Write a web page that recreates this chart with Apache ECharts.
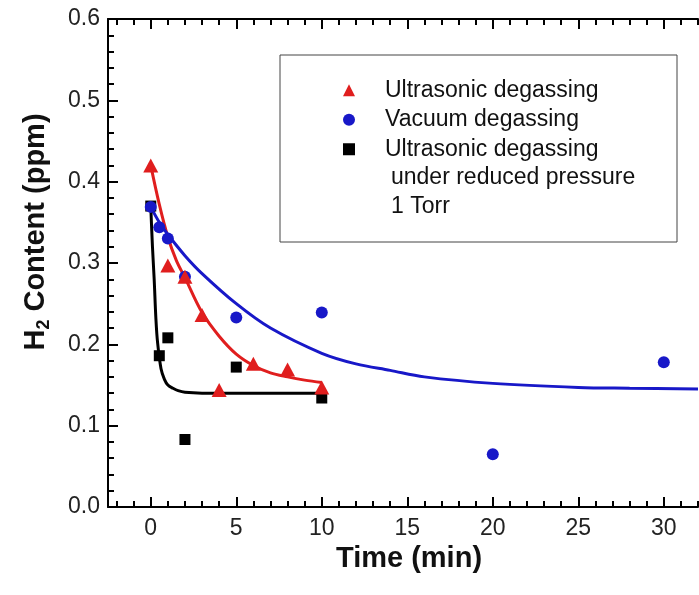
<!DOCTYPE html>
<html>
<head>
<meta charset="utf-8">
<script src="https://cdn.jsdelivr.net/npm/echarts@6/dist/echarts.min.js"></script>
<style>html,body{margin:0;padding:0;background:#fff;}#c{width:699px;height:595px;}</style>
</head>
<body>
<div id="c"></div>
<script>
// ---- data ----
var ultraX = [0, 1, 2, 3, 4, 6, 8, 10];
var ultraY = [0.420, 0.297, 0.283, 0.236, 0.144, 0.176, 0.169, 0.147];
var vacX = [0, 0.5, 1, 2, 5, 10, 20, 30];
var vacY = [0.369, 0.344, 0.330, 0.283, 0.233, 0.239, 0.065, 0.178];
var lowX = [0, 0.5, 1, 2, 5, 10];
var lowY = [0.370, 0.186, 0.208, 0.083, 0.172, 0.134];
// fitted curves
var ultraFitX = [0, 0.5, 1, 1.5, 2, 3, 4, 5, 6, 7, 8, 9, 10];
var ultraFitY = [0.420, 0.372, 0.332, 0.303, 0.282, 0.239, 0.210, 0.188, 0.174, 0.165, 0.160, 0.156, 0.153];
var vacFitX = [0, 0.5, 1, 2, 3, 5, 7, 10, 12, 14, 16, 20, 25, 28, 32];
var vacFitY = [0.369, 0.350, 0.335, 0.309, 0.287, 0.250, 0.220, 0.189, 0.176, 0.168, 0.160, 0.152, 0.147, 0.146, 0.145];
var lowFitX = [0, 0.1, 0.2, 0.3, 0.4, 0.6, 0.8, 1, 1.3, 1.6, 2, 3, 5, 10];
var lowFitY = [0.370, 0.320, 0.280, 0.232, 0.202, 0.170, 0.157, 0.150, 0.146, 0.143, 0.141, 0.140, 0.140, 0.140];
var xMajor = [0, 5, 10, 15, 20, 25, 30];
var xMinor = [-2, -1, 1, 2, 3, 4, 6, 7, 8, 9, 11, 12, 13, 14, 16, 17, 18, 19, 21, 22, 23, 24, 26, 27, 28, 29, 31, 32];
var names = ['Ultrasonic degassing', 'Vacuum degassing', 'Ultrasonic degassing under reduced pressure 1 Torr'];
var extraLegendLines = ['under reduced pressure', '1 Torr'];

function zip(xs, ys) { return xs.map(function (x, i) { return [x, ys[i]]; }); }

var FONT = '"Liberation Sans", Arial, sans-serif';
var RED = '#e01e1e', BLUE = '#1818c8', BLACK = '#000000';

var chart = echarts.init(document.getElementById('c'), null, { renderer: 'canvas' });

function xAx(pos, ticks, len, withLine, extra) {
  var a = {
    type: 'value', position: pos, min: -2.5, max: 32,
    axisLine: { show: withLine, onZero: false, lineStyle: { color: '#000', width: 2 } },
    axisTick: { show: true, inside: true, length: len, customValues: ticks, lineStyle: { color: '#000', width: 2 } },
    axisLabel: { show: false },
    splitLine: { show: false }
  };
  for (var k in extra) a[k] = extra[k];
  return a;
}

var option = {
  backgroundColor: '#ffffff',
  animation: false,
  grid: { left: 108, right: 1, top: 19, bottom: 88, containLabel: false },
  xAxis: [
    xAx('bottom', xMajor, 10, true, {
      axisLabel: { show: true, customValues: xMajor, fontSize: 23, color: '#222', fontFamily: FONT, margin: 10 },
      name: 'Time (min)', nameLocation: 'middle', nameGap: 33,
      nameTextStyle: { fontSize: 29, fontWeight: 'bold', color: '#111', fontFamily: FONT, padding: [0, 0, 0, 12] }
    }),
    xAx('bottom', xMinor, 6, false, {}),
    xAx('top', xMajor, 10, true, {}),
    xAx('top', xMinor, 6, false, {})
  ],
  yAxis: [{
    type: 'value', min: 0, max: 0.6, interval: 0.1,
    axisLine: { show: true, onZero: false, lineStyle: { color: '#000', width: 2 } },
    axisTick: { show: true, inside: true, length: 10, lineStyle: { color: '#000', width: 2 } },
    minorTick: { show: true, splitNumber: 5, length: 6, lineStyle: { color: '#000', width: 2 } },
    axisLabel: { fontSize: 23, color: '#222', fontFamily: FONT, margin: 8, formatter: function (v) { return v.toFixed(1); } },
    splitLine: { show: false },
    name: '{b|H}{s|2}{b| Content (ppm)}', nameLocation: 'middle', nameGap: 55,
    nameTextStyle: {
      fontFamily: FONT, color: '#111', padding: [0, 0, 0, 62],
      rich: {
        b: { fontSize: 29, fontWeight: 'bold', fontFamily: FONT, color: '#111', lineHeight: 34 },
        s: { fontSize: 18, fontWeight: 'bold', fontFamily: FONT, color: '#111', lineHeight: 22, verticalAlign: 'bottom' }
      }
    }
  }],
  legend: {
    orient: 'vertical', left: 343, top: 78, padding: 0, itemGap: 5,
    itemWidth: 12, itemHeight: 12,
    data: names,
    formatter: function (n) { return n === names[2] ? 'Ultrasonic degassing' : n; },
    textStyle: { fontSize: 23, color: '#111', fontFamily: FONT, lineHeight: 24.5, padding: [0, 0, 0, 25] }
  },
  graphic: [
    { type: 'rect', shape: { x: 280, y: 55, width: 397, height: 187 }, style: { fill: 'transparent', stroke: '#444', lineWidth: 1 }, z: 1 },
    { type: 'text', x: 391, y: 178, style: { text: extraLegendLines[0], fontSize: 23, fontFamily: FONT, fill: '#111', verticalAlign: 'middle' }, z: 5 },
    { type: 'text', x: 391, y: 207, style: { text: extraLegendLines[1], fontSize: 23, fontFamily: FONT, fill: '#111', verticalAlign: 'middle' }, z: 5 }
  ],
  series: [
    { type: 'line', name: 'fitU', data: zip(ultraFitX, ultraFitY), showSymbol: false, smooth: 0.35, lineStyle: { color: RED, width: 3 }, silent: true, z: 2 },
    { type: 'line', name: 'fitV', data: zip(vacFitX, vacFitY), showSymbol: false, smooth: 0.35, lineStyle: { color: BLUE, width: 3 }, silent: true, z: 2 },
    { type: 'line', name: 'fitL', data: zip(lowFitX, lowFitY), showSymbol: false, smooth: 0.35, lineStyle: { color: BLACK, width: 3 }, silent: true, z: 2 },
    { type: 'scatter', name: names[2], data: zip(lowX, lowY), symbol: 'rect', symbolSize: 11, itemStyle: { color: BLACK, opacity: 1 }, z: 3 },
    { type: 'scatter', name: names[1], data: zip(vacX, vacY), symbol: 'circle', symbolSize: 12, itemStyle: { color: BLUE, opacity: 1 }, z: 4 },
    { type: 'scatter', name: names[0], data: zip(ultraX, ultraY), symbol: 'triangle', symbolSize: [15, 14], itemStyle: { color: RED, opacity: 1 }, z: 5 }
  ]
};
chart.setOption(option);
</script>
</body>
</html>
